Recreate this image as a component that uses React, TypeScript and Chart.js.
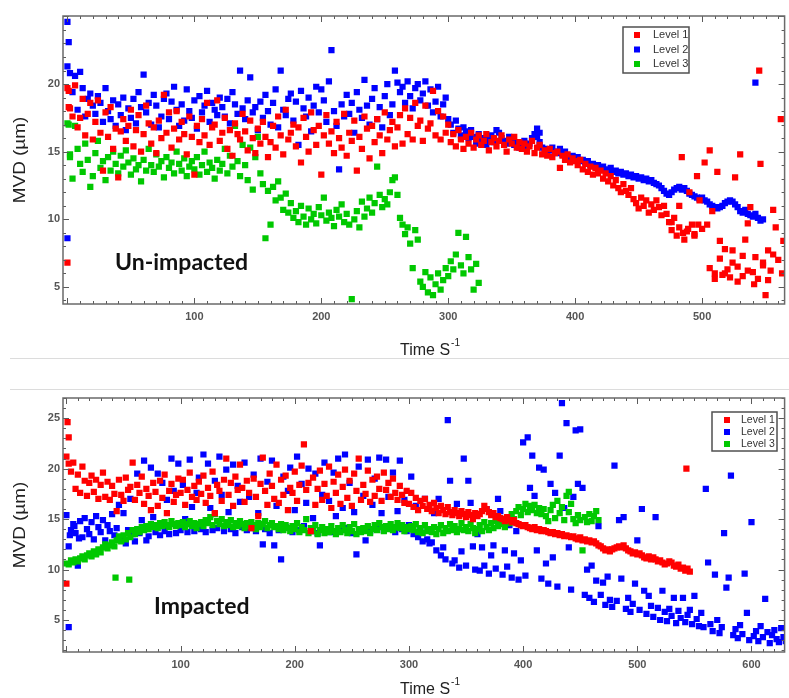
import { useEffect, useRef } from "react";
import { Chart, registerables } from "chart.js";

Chart.register(...registerables);

// ---- colours ----
const RED = "rgb(255,0,0)";
const BLUE = "rgb(0,0,255)";
const GREEN = "rgb(0,200,0)";

const SERIES_NAMES = ["Level 1", "Level 2", "Level 3"];

// sampling interval of the MVD records (s)
const STEP = 2;

// ---- Un-impacted: MVD (µm) every STEP seconds from t = 0 ----
const topLevel1 = [
  19.7, 18.2, 17.6, 19.9, 16.8, 17.5, 18.9, 16.2, 17.8, 18.6,
  15.9, 17.2, 18.8, 16.4, 13.6, 17.9, 16.1, 18.3, 15.2, 16.7,
  13.1, 16.5, 17.4, 15.8, 16.9, 18.1, 15.4, 16.6, 17.7, 15.0,
  16.3, 18.4, 17.1, 15.6, 16.8, 14.9, 17.3, 16.0, 19.2, 16.4,
  17.9, 15.3, 16.7, 18.0, 15.9, 17.2, 16.3, 14.8, 17.6, 16.1,
  13.3, 16.9, 15.7, 17.4, 16.2, 18.6, 15.5, 16.8, 17.0, 18.8,
  15.8, 16.4, 17.5, 15.2, 16.6, 14.7, 17.1, 16.3, 15.9, 17.8,
  16.5, 15.1, 17.3, 16.0, 14.9, 16.7, 15.6, 17.2, 16.1, 14.6,
  15.7, 16.9, 15.3, 17.6, 16.2, 14.8, 18.1, 15.9, 16.4, 17.0,
  15.4, 16.8, 14.2, 17.5, 16.1, 15.0, 17.9, 16.6, 15.5, 16.9,
  13.3, 16.2, 17.7, 15.6, 16.5, 14.9, 17.2, 16.0, 15.3, 17.8,
  14.7, 16.4, 15.8, 17.3, 13.6, 16.1, 15.2, 17.6, 16.7, 14.5,
  16.9, 15.7, 17.4, 16.2, 14.9, 17.9, 15.9, 16.6, 17.2, 15.4,
  16.8, 17.7, 15.6, 18.2, 16.3, 17.5, 15.9, 18.6, 16.9, 17.3,
  15.8, 18.4, 16.7, 17.1, 19.5, 16.2, 18.0, 15.9, 17.6, 16.4,
  17.0, 15.7, 16.3, 15.4, 16.6, 15.9, 15.2, 16.1, 15.6, 16.4,
  15.3, 15.9, 16.2, 15.5, 15.8, 16.3, 15.1, 15.7, 16.0, 15.4,
  15.8, 16.2, 15.5, 15.0, 15.9, 15.6, 16.1, 15.3, 15.7, 15.2,
  15.6, 15.0, 15.4, 15.8, 14.9, 15.3, 15.5, 14.8, 15.1, 14.7,
  15.2, 14.6, 14.9, 15.0, 13.8, 14.7, 14.4, 14.8, 14.2, 14.5,
  14.3, 14.0, 14.4, 13.7, 14.1, 13.5, 13.9, 13.3, 13.8, 13.4,
  13.6, 13.0, 13.4, 12.8, 13.2, 12.5, 12.9, 12.3, 12.0, 12.6,
  12.1, 11.8, 12.3, 11.5, 11.2, 10.8, 11.6, 11.0, 11.4, 10.5,
  11.1, 10.7, 11.4, 10.9, 10.3, 11.0, 10.4, 9.8, 9.2, 10.1,
  8.8, 9.4, 14.6, 8.5, 9.1, 12.0, 9.6, 8.9, 13.2, 11.4,
  9.3, 14.2, 9.6, 15.1, 10.6, 6.0, 13.5, 8.4, 5.9, 7.8,
  6.3, 5.7, 7.7, 13.1, 6.5, 14.8, 5.8, 8.5, 9.7, 10.9,
  6.1, 7.2, 5.6, 14.1, 6.8, 4.4, 7.7, 6.2, 10.7, 9.4,
  7.0, 17.4, 8.4,
];
const topLevel1Extra = [
  [0, 6.8], [1, 19.5], [1, 18.3], [545, 21.0], [476, 9.8], [482, 11.0],
  [485, 9.0], [489, 9.3], [494, 8.8], [497, 9.6], [506, 6.4], [510, 5.6],
  [514, 7.1], [518, 6.0], [524, 6.8], [528, 5.4], [532, 7.3], [536, 6.2],
  [541, 5.2], [548, 6.6], [552, 5.5], [556, 7.4], [563, 6.0],
];

const topLevel2 = [
  21.3, 20.8, 19.4, 20.6, 18.1, 20.9, 19.7, 17.6, 18.9, 19.3,
  18.4, 17.8, 19.1, 18.6, 17.2, 19.7, 18.0, 17.4, 18.8, 16.9,
  18.5, 17.7, 19.0, 16.6, 18.2, 17.5, 18.9, 17.1, 19.4, 18.3,
  20.7, 17.9, 18.6, 17.0, 19.2, 18.4, 16.8, 17.6, 18.9, 19.3,
  17.4, 18.7, 19.8, 18.1, 16.9, 18.5, 17.3, 19.6, 18.0, 17.5,
  18.8, 16.7, 19.1, 17.9, 18.4, 19.5, 17.2, 18.6, 18.1, 17.7,
  19.0, 18.3, 17.6, 18.9, 17.1, 19.4, 18.5, 17.8, 21.0, 18.2,
  17.4, 18.8, 20.5, 17.9, 18.3, 16.6, 18.7, 17.5, 19.2, 18.0,
  17.0, 18.6, 19.6, 16.8, 21.0, 18.1, 17.7, 18.9, 19.3, 17.3,
  18.7, 15.5, 19.5, 18.2, 17.6, 19.0, 16.5, 18.4, 19.8, 17.9,
  19.6, 18.8, 17.2, 20.2, 22.5, 18.0, 16.9, 13.7, 18.5, 17.6,
  19.2, 17.8, 18.6, 16.4, 19.4, 18.1, 17.5, 20.3, 18.4, 17.0,
  18.9, 19.7, 17.4, 18.3, 16.8, 19.1, 20.0, 17.7, 18.5, 21.0,
  20.1, 19.4, 19.8, 18.6, 20.2, 19.1, 18.2, 19.7, 20.0, 18.8,
  19.3, 20.2, 18.4, 19.6, 17.9, 18.7, 19.8, 17.6, 18.5, 19.0,
  17.4, 17.0, 16.4, 17.3, 16.7, 16.2, 16.8, 16.5, 16.0, 16.6,
  16.1, 15.6, 16.3, 15.8, 16.0, 15.5, 15.9, 16.2, 15.7, 16.6,
  16.4, 16.0, 15.8, 15.6, 16.1, 15.9, 15.5, 15.7, 15.3, 15.6,
  15.8, 15.4, 15.6, 16.0, 16.3, 16.1, 15.7, 15.3, 15.2, 15.0,
  15.1, 15.3, 15.0, 14.9, 15.2, 14.8, 15.0, 14.7, 14.6, 14.7,
  14.5, 14.6, 14.3, 14.4, 14.2, 14.3, 14.0, 14.1, 13.9, 14.0,
  13.8, 13.9, 13.7, 13.6, 13.8, 13.5, 13.6, 13.4, 13.5, 13.3,
  13.4, 13.2, 13.3, 13.1, 13.2, 13.0, 13.1, 12.9, 13.0, 12.8,
  12.9, 12.7, 12.6, 12.5, 12.3, 12.1, 11.9, 11.8, 12.0, 12.2,
  12.3, 12.4, 12.2, 12.3, 12.1, 11.9, 11.8, 11.7, 11.6, 11.5,
  11.6, 11.4, 11.3, 11.1, 11.0, 10.9, 10.8, 10.9, 11.0, 11.2,
  11.3, 11.4, 11.3, 11.1, 10.9, 10.6, 10.5, 10.7, 10.4, 10.3,
  10.2, 10.4, 10.1, 9.9, 10.0,
];
const topLevel2Extra = [
  [0, 24.6], [1, 23.1], [0, 8.6], [542, 20.1], [370, 16.7], [372, 16.4],
];

const topLevel3 = [
  17.1, 14.8, 13.0, 16.9, 15.2, 14.1, 13.5, 15.6, 14.4, 12.4,
  13.2, 14.9, 15.8, 13.8, 14.3, 12.9, 14.6, 13.6, 15.0, 14.1,
  13.4, 14.7, 13.9, 15.1, 14.2, 13.3, 14.5, 13.7, 14.0, 12.8,
  14.4, 13.6, 15.2, 14.0, 13.5, 14.8, 13.9, 14.3, 13.1, 14.6,
  13.8, 14.2, 13.4, 15.0, 14.1, 13.6, 14.5, 13.2, 13.9, 14.3,
  13.7, 14.6, 13.3, 14.0, 15.0, 13.5, 14.2, 13.8, 13.0, 14.4,
  13.6, 14.1, 15.2, 13.4, 14.7, 13.9, 16.9, 14.3, 13.2, 15.5,
  14.0, 12.9, 15.3, 12.2, 14.6, 16.1, 13.4, 12.6, 8.6, 12.1,
  9.6, 12.4, 11.4, 12.8, 11.6, 10.7, 11.9, 10.5, 11.2, 10.1,
  10.6, 9.8, 11.0, 10.2, 9.6, 10.8, 10.0, 10.4, 9.7, 10.9,
  10.3, 11.6, 9.9, 10.5, 10.1, 9.5, 10.7, 10.2, 11.1, 9.8,
  10.4, 9.6, 4.1, 10.0, 10.6, 9.4, 11.3, 10.2, 10.8, 11.6,
  10.5, 11.2, 13.9, 11.8, 10.9, 11.5, 11.1, 12.0, 12.9, 13.1,
  11.8, 10.1, 9.6, 8.9, 9.4, 8.2, 6.4, 9.2, 8.5, 5.4,
  5.0, 6.1, 4.6, 5.7, 4.4, 5.2, 6.0, 4.8, 5.5, 6.4,
  5.8, 6.9, 6.3, 7.4, 9.0, 6.6, 6.0, 8.7, 7.2, 6.3,
  4.8, 6.7, 5.3,
];
const topLevel3Extra = [[1, 17.0], [2, 14.6]];

// ---- Impacted: MVD (µm) every STEP seconds from t = 0 ----
const bottomLevel1 = [
  21.2, 20.5, 19.7, 20.6, 18.0, 19.4, 17.6, 20.2, 18.8, 17.3,
  18.6, 19.3, 17.7, 18.9, 17.0, 18.4, 19.6, 17.2, 18.7, 16.9,
  18.3, 17.5, 15.8, 18.9, 17.4, 16.8, 19.1, 17.9, 18.2, 20.6,
  16.9, 18.4, 17.6, 19.2, 16.5, 18.0, 17.3, 15.9, 18.6, 17.7,
  16.3, 18.8, 17.1, 19.4, 15.6, 17.8, 18.5, 16.7, 17.4, 19.0,
  17.6, 18.9, 16.4, 17.9, 19.6, 17.2, 18.3, 16.9, 18.7, 17.5,
  19.3, 16.6, 18.1, 17.3, 19.7, 15.6, 18.4, 17.8, 16.8, 18.9,
  21.0, 17.4, 18.6, 16.3, 19.2, 17.9, 20.4, 18.1, 16.7, 18.8,
  17.6, 14.1, 19.0, 17.2, 15.3, 18.5, 21.1, 17.8, 16.4, 19.5,
  18.3, 17.0, 20.4, 16.6, 18.9, 17.4, 19.3, 15.9, 18.1, 17.6,
  19.7, 16.8, 18.4, 20.3, 22.4, 17.9, 18.6, 13.8, 19.1, 16.4,
  18.0, 19.8, 16.9, 18.5, 17.3, 20.2, 16.1, 18.7, 17.6, 19.4,
  16.5, 18.2, 19.9, 17.1, 18.8, 16.3, 19.5, 17.8, 21.0, 16.9,
  18.4, 17.5, 19.8, 16.7, 18.9, 17.3, 19.2, 18.0, 16.8, 19.6,
  17.9, 18.6, 17.2, 19.0, 17.6, 16.9, 18.3, 17.4, 16.6, 17.8,
  16.5, 17.6, 16.2, 17.1, 15.9, 16.8, 16.3, 17.0, 16.0, 16.4,
  15.8, 16.6, 16.1, 15.6, 16.3, 15.9, 15.5, 16.2, 15.7, 15.4,
  15.9, 15.6, 15.3, 15.8, 15.5, 15.2, 15.7, 15.4, 15.0, 15.6,
  15.3, 15.5, 15.8, 16.3, 16.0, 15.7, 15.4, 15.6, 15.2, 15.3,
  15.1, 15.0, 14.8, 15.2, 14.9, 14.7, 14.9, 14.6, 14.5, 14.4,
  14.3, 14.4, 14.2, 14.1, 14.0, 14.2, 13.9, 14.0, 13.8, 13.9,
  13.8, 13.7, 13.6, 13.7, 13.5, 13.6, 13.4, 13.5, 13.3, 13.4,
  13.3, 13.2, 13.3, 13.1, 13.0, 13.2, 12.9, 13.0, 12.8, 12.9,
  12.7, 12.8, 12.6, 12.4, 12.3, 12.1, 11.9, 12.0, 11.8, 12.0,
  12.1, 12.2, 12.3, 12.2, 12.4, 12.1, 11.9, 11.8, 11.6, 11.7,
  11.5, 11.6, 11.4, 11.2, 11.1, 11.3, 11.0, 11.2, 11.0, 10.8,
  10.9, 10.7, 10.5, 10.6, 10.8, 10.7, 10.4, 10.3, 10.5, 10.1,
  10.2, 9.9, 10.1, 9.8,
];
const bottomLevel1Extra = [[1, 24.6], [2, 23.1], [0, 8.6], [543, 20.0]];

const bottomLevel2 = [
  15.4, 12.3, 13.9, 14.5, 13.6, 10.4, 14.8, 13.2, 15.1, 14.0,
  13.5, 14.7, 13.0, 15.3, 14.2, 13.7, 14.9, 12.9, 14.4, 13.8,
  15.5, 13.4, 14.1, 16.4, 13.2, 15.6, 12.6, 13.9, 17.0, 13.5,
  12.8, 19.5, 13.6, 14.9, 20.8, 12.9, 13.3, 20.1, 15.2, 13.7,
  19.5, 13.4, 18.6, 13.8, 16.9, 13.5, 21.0, 17.8, 13.6, 20.5,
  13.9, 18.4, 15.0, 13.7, 20.9, 16.2, 13.8, 17.6, 19.1, 14.0,
  21.4, 13.7, 20.5, 16.1, 13.9, 18.8, 14.1, 21.2, 17.4, 13.8,
  19.9, 15.7, 14.0, 20.4, 13.6, 18.3, 16.7, 14.2, 20.6, 13.9,
  17.2, 14.1, 19.4, 13.8, 15.6, 21.0, 12.5, 14.0, 18.7, 13.6,
  20.8, 12.4, 16.3, 13.9, 11.0, 19.2, 14.2, 17.8, 20.1, 13.7,
  15.9, 21.2, 13.9, 18.5, 14.3, 16.6, 20.0, 13.8, 15.1, 19.5,
  13.6, 12.4, 17.4, 20.6, 14.0, 16.8, 13.7, 19.6, 15.3, 21.0,
  13.9, 16.1, 21.4, 14.1, 18.6, 13.6, 15.7, 11.5, 20.2, 14.0,
  17.3, 12.9, 20.9, 13.8, 16.4, 19.0, 14.2, 21.1, 15.6, 13.9,
  20.9, 17.2, 14.1, 19.6, 13.7, 15.8, 20.8, 14.0, 16.9, 13.8,
  14.4, 19.2, 13.5, 16.3, 13.2, 14.0, 12.8, 17.0, 13.0, 12.6,
  12.7, 15.6, 11.9, 17.0, 11.4, 12.2, 11.0, 24.8, 18.8, 10.6,
  10.9, 16.5, 10.2, 11.8, 21.0, 10.4, 18.8, 16.6, 12.3, 10.0,
  13.5, 9.9, 12.2, 10.4, 16.0, 9.6, 11.4, 12.4, 10.1, 17.0,
  15.8, 9.5, 11.9, 10.3, 14.4, 9.2, 11.6, 13.8, 9.0, 10.9,
  22.6, 9.4, 23.1, 18.1, 21.3, 17.3, 11.9, 20.1, 9.1, 19.9,
  10.6, 8.6, 18.5, 11.2, 17.6, 8.3, 21.3, 26.5, 16.1, 24.5,
  12.2, 8.0, 17.2, 23.8, 18.5, 23.9, 18.1, 7.5, 10.0, 7.2,
  10.4, 6.8, 8.9, 14.3, 7.5, 8.7, 6.5, 9.3, 7.0, 6.3,
  20.3, 6.9, 14.9, 9.1, 15.2, 6.1, 7.2, 5.8, 6.6, 8.6,
  12.9, 6.0, 16.0, 7.9, 5.6, 7.4, 6.4, 5.3, 15.2, 6.2,
  5.0, 7.9, 5.8, 4.9, 6.1, 5.4, 7.2, 4.7, 5.9, 5.2,
  7.2, 4.8, 5.5, 6.0, 4.6, 7.4, 5.1, 4.4, 5.7, 4.3,
  18.0, 10.7, 4.6, 3.9, 9.5, 5.0, 3.7, 4.3, 13.6, 8.2,
  9.2, 19.3, 3.5, 4.1, 3.2, 4.5, 3.6, 9.6, 5.7, 3.0,
  14.7, 3.4, 3.9, 2.9, 4.4, 3.3, 7.1, 3.8, 2.7, 3.5,
  4.0, 3.1, 2.8, 4.2, 3.3, 2.9,
];
const bottomLevel2Extra = [[2, 4.3], [3, 13.4], [7, 14.3], [11, 13.1]];

const bottomLevel3 = [
  10.6, 10.5, 10.9, 10.7, 11.0, 10.8, 11.1, 11.3, 11.0, 11.4,
  11.6, 11.3, 11.8, 11.5, 12.0, 11.7, 12.2, 12.5, 12.1, 12.4,
  12.7, 12.3, 12.9, 13.3, 12.8, 13.4, 13.0, 13.6, 13.2, 13.9,
  13.5, 14.0, 13.7, 14.2, 13.9, 14.3, 14.0, 14.5, 14.2, 14.4,
  14.1, 14.6, 14.3, 14.7, 14.4, 14.2, 14.8, 14.5, 14.3, 14.6,
  14.4, 14.7, 14.2, 14.5, 14.8, 14.3, 14.6, 14.1, 14.5, 14.7,
  14.3, 14.9, 14.6, 15.2, 14.4, 15.5, 14.8, 14.5, 15.0, 14.3,
  14.7, 14.4, 14.9, 14.2, 14.6, 14.3, 14.8, 14.5, 14.1, 14.6,
  14.3, 14.7, 14.4, 14.0, 14.6, 14.2, 14.5, 14.8, 14.1, 14.4,
  14.6, 14.2, 14.3, 14.0, 14.5, 13.9, 14.4, 14.1, 13.8, 14.3,
  14.0, 14.6, 13.7, 14.2, 13.9, 15.0, 13.6, 14.1, 13.8, 14.4,
  13.5, 13.9, 14.2, 13.6, 14.0, 13.7, 14.3, 13.8, 13.5, 14.1,
  13.7, 14.4, 13.9, 13.6, 14.2, 13.8, 14.5, 13.5, 14.0, 13.7,
  14.1, 13.8, 14.3, 13.6, 14.0, 14.4, 13.9, 14.6, 14.2, 13.8,
  14.3, 14.0, 14.5, 13.9, 14.2, 14.6, 14.1, 14.4, 13.8, 14.2,
  14.0, 14.3, 13.9, 14.5, 13.7, 14.1, 13.6, 14.4, 13.8, 14.0,
  13.7, 14.2, 13.5, 14.0, 14.4, 13.6, 14.1, 13.8, 14.5, 13.9,
  14.3, 13.7, 14.0, 14.6, 13.9, 14.2, 13.8, 14.5, 14.1, 13.6,
  14.0, 14.4, 13.8, 14.7, 14.2, 13.9, 14.6, 14.1, 14.8, 14.3,
  14.5, 14.9, 14.2, 15.1, 14.6, 15.5, 15.0, 15.8, 16.2, 15.4,
  16.0, 16.5, 15.7, 16.3, 15.9, 16.4, 15.6, 16.1, 15.5, 16.0,
  15.3, 14.8, 15.9, 16.4, 15.1, 16.8, 15.6, 16.2, 14.9, 17.3,
  15.7, 16.5, 15.0, 14.6, 15.4, 14.9, 11.9, 15.2, 14.7, 15.5,
  14.8, 15.3, 15.8, 14.9,
];
const bottomLevel3Extra = [[43, 9.2], [55, 9.0], [440, 17.7]];

// ---- axis ticks ----
const topXTicks = [100, 200, 300, 400, 500];
const topYTicks = [5, 10, 15, 20];
const bottomXTicks = [100, 200, 300, 400, 500, 600];
const bottomYTicks = [5, 10, 15, 20, 25];

const toPoints = (ys: number[], extra: number[][]) =>
  ys
    .map((y, i) => ({ x: i * STEP, y }))
    .concat(extra.map(([x, y]) => ({ x, y })));

type Legend = {
  x: number; y: number; w: number; h: number;
  row0: number; gap: number; swatchX: number; textX: number; font: string;
};

type Panel = {
  width: number; height: number;
  padTop: number; xAxisH: number;
  xMin: number; xMax: number; yMin: number; yMax: number;
  xTicks: number[]; yTicks: number[];
  series: { ys: number[]; extra: number[][] }[];
  tag: string; tagX: number; tagY: number;
  legend: Legend;
  titleX: number; titleY: number; mvdY: number;
};

const COLORS = [RED, BLUE, GREEN];
const ORDER = [0, 2, 1]; // red on top, blue underneath

const decor = (p: Panel) => ({
  id: "decor",
  afterDraw(chart: any) {
    const ctx: CanvasRenderingContext2D = chart.ctx;
    const a = chart.chartArea;
    const xs = chart.scales.x;
    const ys = chart.scales.y;
    ctx.save();

    // inner ticks on all four sides
    ctx.strokeStyle = "#5a5a5a";
    ctx.lineWidth = 1;
    ctx.beginPath();
    for (let v = Math.ceil(p.xMin / 10) * 10; v <= p.xMax; v += 10) {
      const px = Math.round(xs.getPixelForValue(v)) + 0.5;
      const len = v % 100 === 0 ? 6 : 3;
      ctx.moveTo(px, a.bottom);
      ctx.lineTo(px, a.bottom - len);
      ctx.moveTo(px, a.top);
      ctx.lineTo(px, a.top + len);
    }
    for (let v = Math.ceil(p.yMin); v <= p.yMax; v += 1) {
      const py = Math.round(ys.getPixelForValue(v)) + 0.5;
      const len = v % 5 === 0 ? 6 : 3;
      ctx.moveTo(a.left, py);
      ctx.lineTo(a.left + len, py);
      ctx.moveTo(a.right, py);
      ctx.lineTo(a.right - len, py);
    }
    ctx.stroke();

    // frame
    ctx.strokeStyle = "#6a6a6a";
    ctx.lineWidth = 1.5;
    ctx.strokeRect(a.left, a.top, a.right - a.left, a.bottom - a.top);

    // legend
    const L = p.legend;
    ctx.fillStyle = "#fff";
    ctx.fillRect(L.x, L.y, L.w, L.h);
    ctx.strokeStyle = "#505050";
    ctx.lineWidth = 1.5;
    ctx.strokeRect(L.x, L.y, L.w, L.h);
    ctx.font = L.font;
    ctx.textBaseline = "middle";
    ctx.textAlign = "left";
    SERIES_NAMES.forEach((name, i) => {
      const cy = L.row0 + i * L.gap;
      ctx.fillStyle = COLORS[i];
      ctx.fillRect(L.swatchX - 3, cy - 3, 6, 6);
      ctx.fillStyle = "#333";
      ctx.fillText(name, L.textX, cy);
    });

    // panel tag
    ctx.fillStyle = "#111";
    ctx.font = "bold 23px Lato, 'Open Sans', sans-serif";
    ctx.textBaseline = "alphabetic";
    ctx.fillText(p.tag, p.tagX, p.tagY);

    // x-axis title with superscript
    ctx.fillStyle = "#222";
    ctx.font = "16px 'Liberation Sans', Arial, sans-serif";
    ctx.fillText("Time S", p.titleX, p.titleY);
    const w = ctx.measureText("Time S").width;
    ctx.font = "10px 'Liberation Sans', Arial, sans-serif";
    ctx.fillText("-1", p.titleX + w + 1, p.titleY - 9);

    // y-axis title
    ctx.translate(21, p.mvdY);
    ctx.rotate(-Math.PI / 2);
    ctx.scale(1.18, 1);
    ctx.font = "16px 'Liberation Sans', Arial, sans-serif";
    ctx.textAlign = "center";
    ctx.textBaseline = "middle";
    ctx.fillText("MVD (µm)", 0, 0);
    ctx.restore();
  },
});

const buildChart = (canvas: HTMLCanvasElement, p: Panel) => {
  const tickFont = { family: "'Liberation Sans', Arial, sans-serif", size: 11, weight: "bold" as const };
  return new Chart(canvas, {
    type: "scatter",
    data: {
      datasets: p.series.map((s, i) => ({
        label: SERIES_NAMES[i],
        data: toPoints(s.ys, s.extra),
        backgroundColor: COLORS[i],
        borderColor: COLORS[i],
        borderWidth: 0,
        pointStyle: "rect",
        pointRadius: 4.4,
        pointHoverRadius: 4.4,
        order: ORDER[i],
      })),
    },
    options: {
      responsive: false,
      animation: false,
      devicePixelRatio: 1,
      events: [],
      layout: { padding: { top: p.padTop, right: 1, left: 0, bottom: 0 } },
      plugins: { legend: { display: false }, tooltip: { enabled: false } },
      scales: {
        x: {
          type: "linear",
          min: p.xMin,
          max: p.xMax,
          grid: { display: false, drawTicks: false },
          border: { display: false },
          ticks: { font: tickFont, color: "#555", padding: 6, maxRotation: 0 },
          afterBuildTicks: (s: any) => {
            s.ticks = p.xTicks.map((v) => ({ value: v }));
          },
          afterFit: (s: any) => {
            s.height = p.xAxisH;
          },
        },
        y: {
          type: "linear",
          min: p.yMin,
          max: p.yMax,
          grid: { display: false, drawTicks: false },
          border: { display: false },
          ticks: { font: tickFont, color: "#555", padding: 3 },
          afterBuildTicks: (s: any) => {
            s.ticks = p.yTicks.map((v) => ({ value: v }));
          },
          afterFit: (s: any) => {
            s.width = 63;
          },
        },
      },
    },
    plugins: [decor(p)],
  });
};

const TOP: Panel = {
  width: 789, height: 358, padTop: 16, xAxisH: 54,
  xMin: -3.5, xMax: 565, yMin: 3.74, yMax: 25.03,
  xTicks: topXTicks, yTicks: topYTicks,
  series: [
    { ys: topLevel1, extra: topLevel1Extra },
    { ys: topLevel2, extra: topLevel2Extra },
    { ys: topLevel3, extra: topLevel3Extra },
  ],
  tag: "Un-impacted", tagX: 115, tagY: 270,
  legend: { x: 623, y: 27, w: 66, h: 46, row0: 35, gap: 14.5, swatchX: 637, textX: 653, font: "11px 'Liberation Sans', Arial, sans-serif" },
  titleX: 400, titleY: 355, mvdY: 160,
};

const BOTTOM: Panel = {
  width: 789, height: 338, padTop: 38, xAxisH: 46,
  xMin: -3, xMax: 629, yMin: 1.83, yMax: 27.0,
  xTicks: bottomXTicks, yTicks: bottomYTicks,
  series: [
    { ys: bottomLevel1, extra: bottomLevel1Extra },
    { ys: bottomLevel2, extra: bottomLevel2Extra },
    { ys: bottomLevel3, extra: bottomLevel3Extra },
  ],
  tag: "Impacted", tagX: 154, tagY: 254,
  legend: { x: 712, y: 52, w: 65, h: 39, row0: 60, gap: 12, swatchX: 727, textX: 741, font: "10.5px 'Liberation Sans', Arial, sans-serif" },
  titleX: 400, titleY: 334, mvdY: 165,
};

export default function App() {
  const topRef = useRef<HTMLCanvasElement>(null);
  const bottomRef = useRef<HTMLCanvasElement>(null);

  useEffect(() => {
    const charts = [
      buildChart(topRef.current!, TOP),
      buildChart(bottomRef.current!, BOTTOM),
    ];
    return () => charts.forEach((c) => c.destroy());
  }, []);

  return (
    <div style={{ position: "absolute", left: 0, top: 0, width: 789, height: 698, background: "#fff", overflow: "hidden" }}>
      <canvas ref={topRef} width={789} height={358} style={{ position: "absolute", left: 0, top: 0 }} />
      <div style={{ position: "absolute", left: 10, top: 358, width: 779, height: 1, background: "#dcdcdc" }} />
      <div style={{ position: "absolute", left: 10, top: 389, width: 779, height: 1, background: "#dcdcdc" }} />
      <canvas ref={bottomRef} width={789} height={338} style={{ position: "absolute", left: 0, top: 360 }} />
    </div>
  );
}
